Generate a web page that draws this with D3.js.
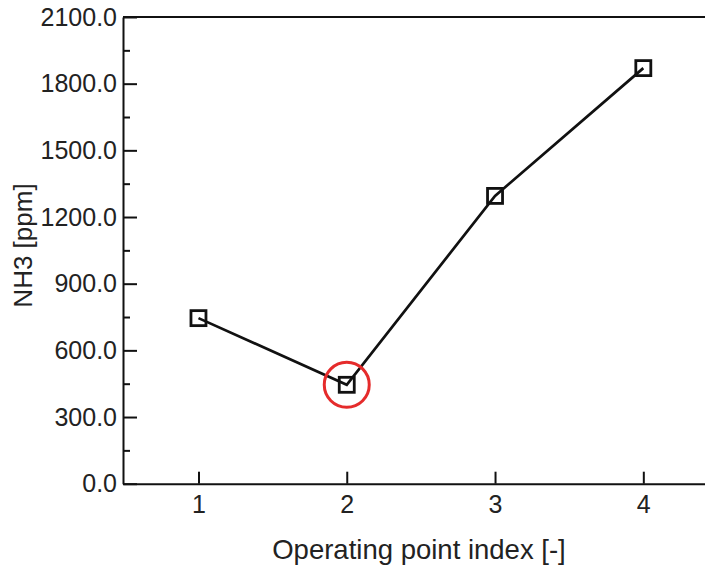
<!DOCTYPE html>
<html>
<head>
<meta charset="utf-8">
<script src="https://cdn.jsdelivr.net/npm/d3@7"></script>
<style>
  html, body { margin: 0; padding: 0; background: #fff; }
  svg { display: block; font-family: "Liberation Sans", Arial, Helvetica, sans-serif; }
</style>
</head>
<body>
<svg id="chart" width="705" height="570"></svg>
<script>
// Operating points and the measured NH3 slip at each one
const operatingPoints = [1, 2, 3, 4];
const nh3Values = [745, 445, 1295, 1870];
const yMajorTicks = [0, 300, 600, 900, 1200, 1500, 1800, 2100];
const yMinorTicks = [150, 450, 750, 1050, 1350, 1650, 1950];
const xTicks = [1, 2, 3, 4];
const highlightedPoint = 2;

const W = 705, H = 570;
const margin = { top: 17, right: 0, bottom: 86.3, left: 123 };
const ink = "#111";

const svg = d3.select("#chart");
const g = svg.append("g").attr("transform", `translate(${margin.left},${margin.top})`);
const iw = W - margin.left - margin.right;
const ih = H - margin.top - margin.bottom;

const x = d3.scaleLinear().domain([0.491, 4.416]).range([0, iw]);
const y = d3.scaleLinear().domain([0, 2100]).range([ih, 0]);

// Y axis: major ticks pointing into the plot, with labels
const yAxis = g.append("g")
  .call(d3.axisLeft(y).tickValues(yMajorTicks).tickSizeInner(-14).tickSizeOuter(0)
    .tickPadding(6).tickFormat(d3.format(".1f")));
// Y axis minor ticks
const yMinor = g.append("g")
  .call(d3.axisLeft(y).tickValues(yMinorTicks).tickSizeInner(-7).tickSizeOuter(0).tickFormat(""));
yMinor.select(".domain").remove();

// X axis along the bottom
const xAxis = g.append("g").attr("transform", `translate(0,${ih})`)
  .call(d3.axisBottom(x).tickValues(xTicks).tickSizeInner(-12).tickSizeOuter(0)
    .tickPadding(12).tickFormat(d3.format("d")));

[yAxis, yMinor, xAxis].forEach(a => {
  a.selectAll(".domain").attr("stroke", ink).attr("stroke-width", 2);
  a.selectAll(".tick line").attr("stroke", ink).attr("stroke-width", 2);
  a.selectAll(".tick text").attr("fill", "#222").style("font-size", "25px")
    .style("font-family", "'Liberation Sans', Arial, sans-serif");
});

// Top frame line
g.append("line")
  .attr("x1", 0).attr("x2", iw).attr("y1", 0).attr("y2", 0)
  .attr("stroke", ink).attr("stroke-width", 2);

const data = operatingPoints.map((p, i) => ({ p, v: nh3Values[i] }));

// Connecting line
g.append("path")
  .datum(data)
  .attr("fill", "none")
  .attr("stroke", ink)
  .attr("stroke-width", 2.7)
  .attr("d", d3.line().x(d => x(d.p)).y(d => y(d.v)));

// Open square markers
const s = 15;
g.selectAll("rect.marker").data(data).join("rect")
  .attr("class", "marker")
  .attr("x", d => x(d.p) - s / 2)
  .attr("y", d => y(d.v) - s / 2)
  .attr("width", s).attr("height", s)
  .attr("fill", "none")
  .attr("stroke", ink)
  .attr("stroke-width", 2.8);

// Red ring around the highlighted operating point
const hp = data.find(d => d.p === highlightedPoint);
g.append("circle")
  .attr("cx", x(hp.p)).attr("cy", y(hp.v))
  .attr("r", 22.5)
  .attr("fill", "none")
  .attr("stroke", "#e52b2b")
  .attr("stroke-width", 3);

// Axis titles
svg.append("text")
  .attr("x", 419).attr("y", 559)
  .attr("text-anchor", "middle")
  .attr("fill", "#222")
  .style("font-size", "27.5px")
  .text("Operating point index [-]");

svg.append("text")
  .attr("transform", "translate(32,245.5) rotate(-90)")
  .attr("text-anchor", "middle")
  .attr("fill", "#222")
  .style("font-size", "26px")
  .text("NH3 [ppm]");
</script>
</body>
</html>
